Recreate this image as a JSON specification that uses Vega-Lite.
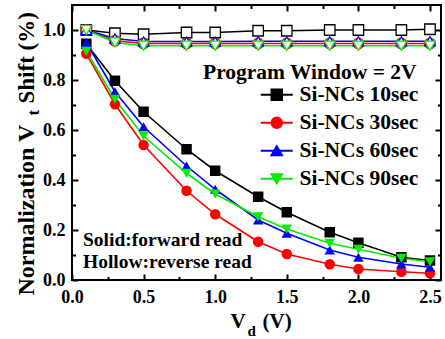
{
  "$schema": "https://vega.github.io/schema/vega-lite/v6.json",
  "width": 369,
  "height": 275,
  "autosize": {"type": "none"},
  "padding": {"left": 72, "top": 5, "right": 4, "bottom": 59},
  "background": "white",
  "config": {
    "view": {"stroke": "black", "strokeWidth": 2},
    "font": "Liberation Serif",
    "axis": {
      "grid": false,
      "domain": false,
      "labelFont": "Liberation Serif",
      "labelFontWeight": "bold",
      "labelFontSize": 18,
      "labelColor": "black",
      "labelOverlap": false,
      "labelFlush": false,
      "titleFont": "Liberation Serif",
      "titleFontWeight": "bold",
      "titleColor": "black",
      "titleAlign": "left",
      "titleBaseline": "alphabetic",
      "tickColor": "black",
      "tickWidth": 2
    },
    "legend": {
      "title": null,
      "orient": "none",
      "padding": 0,
      "symbolSize": 110,
      "symbolStrokeWidth": 2,
      "labelFont": "Liberation Serif",
      "labelFontWeight": "bold",
      "labelFontSize": 21.5,
      "labelColor": "black",
      "labelLimit": 0
    }
  },
  "datasets": {
    "curves": [
      {"vd": 0.1, "shift": 0.945, "series": "Si-NCs 10sec", "read": "forward"},
      {"vd": 0.3, "shift": 0.797, "series": "Si-NCs 10sec", "read": "forward"},
      {"vd": 0.5, "shift": 0.673, "series": "Si-NCs 10sec", "read": "forward"},
      {"vd": 0.8, "shift": 0.523, "series": "Si-NCs 10sec", "read": "forward"},
      {"vd": 1.0, "shift": 0.437, "series": "Si-NCs 10sec", "read": "forward"},
      {"vd": 1.3, "shift": 0.333, "series": "Si-NCs 10sec", "read": "forward"},
      {"vd": 1.5, "shift": 0.271, "series": "Si-NCs 10sec", "read": "forward"},
      {"vd": 1.8, "shift": 0.191, "series": "Si-NCs 10sec", "read": "forward"},
      {"vd": 2.0, "shift": 0.149, "series": "Si-NCs 10sec", "read": "forward"},
      {"vd": 2.3, "shift": 0.091, "series": "Si-NCs 10sec", "read": "forward"},
      {"vd": 2.5, "shift": 0.078, "series": "Si-NCs 10sec", "read": "forward"},
      {"vd": 0.1, "shift": 0.905, "series": "Si-NCs 30sec", "read": "forward"},
      {"vd": 0.3, "shift": 0.703, "series": "Si-NCs 30sec", "read": "forward"},
      {"vd": 0.5, "shift": 0.54, "series": "Si-NCs 30sec", "read": "forward"},
      {"vd": 0.8, "shift": 0.357, "series": "Si-NCs 30sec", "read": "forward"},
      {"vd": 1.0, "shift": 0.263, "series": "Si-NCs 30sec", "read": "forward"},
      {"vd": 1.3, "shift": 0.153, "series": "Si-NCs 30sec", "read": "forward"},
      {"vd": 1.5, "shift": 0.104, "series": "Si-NCs 30sec", "read": "forward"},
      {"vd": 1.8, "shift": 0.063, "series": "Si-NCs 30sec", "read": "forward"},
      {"vd": 2.0, "shift": 0.044, "series": "Si-NCs 30sec", "read": "forward"},
      {"vd": 2.3, "shift": 0.033, "series": "Si-NCs 30sec", "read": "forward"},
      {"vd": 2.5, "shift": 0.027, "series": "Si-NCs 30sec", "read": "forward"},
      {"vd": 0.1, "shift": 0.95, "series": "Si-NCs 60sec", "read": "forward"},
      {"vd": 0.3, "shift": 0.753, "series": "Si-NCs 60sec", "read": "forward"},
      {"vd": 0.5, "shift": 0.613, "series": "Si-NCs 60sec", "read": "forward"},
      {"vd": 0.8, "shift": 0.456, "series": "Si-NCs 60sec", "read": "forward"},
      {"vd": 1.0, "shift": 0.363, "series": "Si-NCs 60sec", "read": "forward"},
      {"vd": 1.3, "shift": 0.24, "series": "Si-NCs 60sec", "read": "forward"},
      {"vd": 1.5, "shift": 0.187, "series": "Si-NCs 60sec", "read": "forward"},
      {"vd": 1.8, "shift": 0.12, "series": "Si-NCs 60sec", "read": "forward"},
      {"vd": 2.0, "shift": 0.091, "series": "Si-NCs 60sec", "read": "forward"},
      {"vd": 2.3, "shift": 0.064, "series": "Si-NCs 60sec", "read": "forward"},
      {"vd": 2.5, "shift": 0.051, "series": "Si-NCs 60sec", "read": "forward"},
      {"vd": 0.1, "shift": 0.915, "series": "Si-NCs 90sec", "read": "forward"},
      {"vd": 0.3, "shift": 0.723, "series": "Si-NCs 90sec", "read": "forward"},
      {"vd": 0.5, "shift": 0.576, "series": "Si-NCs 90sec", "read": "forward"},
      {"vd": 0.8, "shift": 0.427, "series": "Si-NCs 90sec", "read": "forward"},
      {"vd": 1.0, "shift": 0.344, "series": "Si-NCs 90sec", "read": "forward"},
      {"vd": 1.3, "shift": 0.253, "series": "Si-NCs 90sec", "read": "forward"},
      {"vd": 1.5, "shift": 0.204, "series": "Si-NCs 90sec", "read": "forward"},
      {"vd": 1.8, "shift": 0.147, "series": "Si-NCs 90sec", "read": "forward"},
      {"vd": 2.0, "shift": 0.123, "series": "Si-NCs 90sec", "read": "forward"},
      {"vd": 2.3, "shift": 0.087, "series": "Si-NCs 90sec", "read": "forward"},
      {"vd": 2.5, "shift": 0.073, "series": "Si-NCs 90sec", "read": "forward"},
      {"vd": 0.1, "shift": 1.0, "series": "Si-NCs 10sec", "read": "reverse"},
      {"vd": 0.3, "shift": 0.987, "series": "Si-NCs 10sec", "read": "reverse"},
      {"vd": 0.5, "shift": 0.983, "series": "Si-NCs 10sec", "read": "reverse"},
      {"vd": 0.8, "shift": 0.99, "series": "Si-NCs 10sec", "read": "reverse"},
      {"vd": 1.0, "shift": 0.99, "series": "Si-NCs 10sec", "read": "reverse"},
      {"vd": 1.3, "shift": 0.997, "series": "Si-NCs 10sec", "read": "reverse"},
      {"vd": 1.5, "shift": 0.997, "series": "Si-NCs 10sec", "read": "reverse"},
      {"vd": 1.8, "shift": 1.0, "series": "Si-NCs 10sec", "read": "reverse"},
      {"vd": 2.0, "shift": 1.0, "series": "Si-NCs 10sec", "read": "reverse"},
      {"vd": 2.3, "shift": 1.0, "series": "Si-NCs 10sec", "read": "reverse"},
      {"vd": 2.5, "shift": 1.003, "series": "Si-NCs 10sec", "read": "reverse"},
      {"vd": 0.1, "shift": 1.0, "series": "Si-NCs 30sec", "read": "reverse"},
      {"vd": 0.3, "shift": 0.957, "series": "Si-NCs 30sec", "read": "reverse"},
      {"vd": 0.5, "shift": 0.946, "series": "Si-NCs 30sec", "read": "reverse"},
      {"vd": 0.8, "shift": 0.946, "series": "Si-NCs 30sec", "read": "reverse"},
      {"vd": 1.0, "shift": 0.946, "series": "Si-NCs 30sec", "read": "reverse"},
      {"vd": 1.3, "shift": 0.946, "series": "Si-NCs 30sec", "read": "reverse"},
      {"vd": 1.5, "shift": 0.946, "series": "Si-NCs 30sec", "read": "reverse"},
      {"vd": 1.8, "shift": 0.946, "series": "Si-NCs 30sec", "read": "reverse"},
      {"vd": 2.0, "shift": 0.946, "series": "Si-NCs 30sec", "read": "reverse"},
      {"vd": 2.3, "shift": 0.946, "series": "Si-NCs 30sec", "read": "reverse"},
      {"vd": 2.5, "shift": 0.946, "series": "Si-NCs 30sec", "read": "reverse"},
      {"vd": 0.1, "shift": 1.0, "series": "Si-NCs 60sec", "read": "reverse"},
      {"vd": 0.3, "shift": 0.966, "series": "Si-NCs 60sec", "read": "reverse"},
      {"vd": 0.5, "shift": 0.954, "series": "Si-NCs 60sec", "read": "reverse"},
      {"vd": 0.8, "shift": 0.954, "series": "Si-NCs 60sec", "read": "reverse"},
      {"vd": 1.0, "shift": 0.954, "series": "Si-NCs 60sec", "read": "reverse"},
      {"vd": 1.3, "shift": 0.955, "series": "Si-NCs 60sec", "read": "reverse"},
      {"vd": 1.5, "shift": 0.955, "series": "Si-NCs 60sec", "read": "reverse"},
      {"vd": 1.8, "shift": 0.955, "series": "Si-NCs 60sec", "read": "reverse"},
      {"vd": 2.0, "shift": 0.955, "series": "Si-NCs 60sec", "read": "reverse"},
      {"vd": 2.3, "shift": 0.955, "series": "Si-NCs 60sec", "read": "reverse"},
      {"vd": 2.5, "shift": 0.955, "series": "Si-NCs 60sec", "read": "reverse"},
      {"vd": 0.1, "shift": 1.0, "series": "Si-NCs 90sec", "read": "reverse"},
      {"vd": 0.3, "shift": 0.95, "series": "Si-NCs 90sec", "read": "reverse"},
      {"vd": 0.5, "shift": 0.937, "series": "Si-NCs 90sec", "read": "reverse"},
      {"vd": 0.8, "shift": 0.937, "series": "Si-NCs 90sec", "read": "reverse"},
      {"vd": 1.0, "shift": 0.937, "series": "Si-NCs 90sec", "read": "reverse"},
      {"vd": 1.3, "shift": 0.937, "series": "Si-NCs 90sec", "read": "reverse"},
      {"vd": 1.5, "shift": 0.937, "series": "Si-NCs 90sec", "read": "reverse"},
      {"vd": 1.8, "shift": 0.937, "series": "Si-NCs 90sec", "read": "reverse"},
      {"vd": 2.0, "shift": 0.937, "series": "Si-NCs 90sec", "read": "reverse"},
      {"vd": 2.3, "shift": 0.937, "series": "Si-NCs 90sec", "read": "reverse"},
      {"vd": 2.5, "shift": 0.937, "series": "Si-NCs 90sec", "read": "reverse"}
    ]
  },
  "layer": [
    {
      "data": {"name": "curves"},
      "transform": [{"filter": "datum.read === 'forward'"}],
      "mark": {"type": "line", "strokeWidth": 1.6},
      "encoding": {
        "x": {
          "field": "vd", "type": "quantitative",
          "scale": {"domain": [0, 2.577], "nice": false, "zero": false},
          "axis": {
            "orient": "bottom",
            "values": [0, 0.25, 0.5, 0.75, 1, 1.25, 1.5, 1.75, 2, 2.25, 2.5],
            "tickSize": {"condition": {"test": "abs(datum.value*2 - round(datum.value*2)) < 0.001", "value": -6}, "value": -3.5},
            "labelExpr": "abs(datum.value*2 - round(datum.value*2)) < 0.001 ? format(datum.value, '.1f') : ''",
            "labelPadding": 14,
            "title": "V",
            "titleFontSize": 21,
            "titleX": 158,
            "titleY": 47
          }
        },
        "y": {
          "field": "shift", "type": "quantitative",
          "scale": {"domain": [0, 1.1], "nice": false},
          "axis": {
            "orient": "left",
            "values": [0, 0.1, 0.2, 0.3, 0.4, 0.5, 0.6, 0.7, 0.8, 0.9, 1.0],
            "tickSize": {"condition": {"test": "abs(datum.value*5 - round(datum.value*5)) < 0.001", "value": -6}, "value": -3.5},
            "labelExpr": "abs(datum.value*5 - round(datum.value*5)) < 0.001 ? format(datum.value, '.1f') : ''",
            "labelPadding": 13,
            "title": "Normalization V",
            "titleFontSize": 24,
            "titleAngle": -90,
            "titleX": -39,
            "titleY": 290
          }
        },
        "stroke": {
          "field": "series", "type": "nominal",
          "scale": {
            "domain": ["Si-NCs 10sec", "Si-NCs 30sec", "Si-NCs 60sec", "Si-NCs 90sec"],
            "range": ["#000000", "#ff0000", "#0000ff", "#00ee00"]
          },
          "legend": {
            "legendX": 194,
            "legendY": 79,
            "symbolType": "M-3.05,0H3.05",
            "labelOpacity": 0,
            "labelOffset": 12,
            "rowPadding": 5
          }
        }
      }
    },
    {
      "data": {"name": "curves"},
      "transform": [{"filter": "datum.read === 'reverse'"}],
      "mark": {"type": "line", "strokeWidth": 1.6},
      "encoding": {
        "x": {
          "field": "vd", "type": "quantitative",
          "axis": {"orient": "bottom", "ticks": false, "labels": false, "title": "(V)", "titleFontSize": 21, "titleX": 190, "titleY": 47}
        },
        "y": {
          "field": "shift", "type": "quantitative",
          "axis": {"orient": "left", "ticks": false, "labels": false, "title": "Shift (%)", "titleFontSize": 23, "titleAngle": -90, "titleX": -39, "titleY": 98}
        },
        "stroke": {"field": "series", "type": "nominal", "legend": null}
      }
    },
    {
      "data": {"name": "curves"},
      "transform": [{"filter": "datum.read === 'forward'"}],
      "mark": {"type": "point", "filled": true, "opacity": 1, "size": 110},
      "encoding": {
        "x": {
          "field": "vd", "type": "quantitative",
          "axis": {
            "orient": "top",
            "values": [0, 0.25, 0.5, 0.75, 1, 1.25, 1.5, 1.75, 2, 2.25, 2.5],
            "tickSize": {"condition": {"test": "abs(datum.value*2 - round(datum.value*2)) < 0.001", "value": -6}, "value": -3.5},
            "labels": false,
            "title": null
          }
        },
        "y": {
          "field": "shift", "type": "quantitative",
          "axis": {
            "orient": "right",
            "values": [0, 0.1, 0.2, 0.3, 0.4, 0.5, 0.6, 0.7, 0.8, 0.9, 1.0],
            "tickSize": {"condition": {"test": "abs(datum.value*5 - round(datum.value*5)) < 0.001", "value": -6}, "value": -3.5},
            "labels": false,
            "title": null
          }
        },
        "shape": {
          "field": "series", "type": "nominal",
          "scale": {"range": ["square", "circle", "triangle-up", "triangle-down"]},
          "legend": {"legendX": 194, "legendY": 79, "labelOffset": 12, "rowPadding": 5}
        },
        "color": {
          "field": "series", "type": "nominal",
          "scale": {"range": ["#000000", "#ff0000", "#0000ff", "#00ee00"]},
          "legend": {"legendX": 194, "legendY": 79, "labelOffset": 12, "rowPadding": 5}
        }
      }
    },
    {
      "data": {"name": "curves"},
      "transform": [{"filter": "datum.read === 'reverse'"}],
      "mark": {"type": "point", "filled": false, "fill": "white", "fillOpacity": 1, "opacity": 1, "strokeWidth": 1.3, "size": 110},
      "encoding": {
        "x": {
          "field": "vd", "type": "quantitative",
          "axis": {"orient": "bottom", "ticks": false, "labels": false, "title": "d", "titleFontSize": 15, "titleX": 175, "titleY": 55}
        },
        "y": {
          "field": "shift", "type": "quantitative",
          "axis": {"orient": "left", "ticks": false, "labels": false, "title": "t", "titleFontSize": 17, "titleAngle": -90, "titleX": -34, "titleY": 110}
        },
        "shape": {"field": "series", "type": "nominal", "legend": null},
        "color": {"field": "series", "type": "nominal", "legend": null}
      }
    },
    {
      "data": {"values": [{}]},
      "mark": {"type": "text", "text": "Program Window = 2V", "font": "Liberation Serif", "fontWeight": "bold", "fontSize": 21.5, "align": "left", "baseline": "alphabetic", "color": "black"},
      "encoding": {
        "x": {"datum": 0.915, "type": "quantitative", "axis": null},
        "y": {"datum": 0.806, "type": "quantitative", "axis": null}
      }
    },
    {
      "data": {"values": [{}]},
      "mark": {"type": "text", "text": ["Solid:forward read", "Hollow:reverse read"], "lineHeight": 22.7, "font": "Liberation Serif", "fontWeight": "bold", "fontSize": 19.5, "align": "left", "baseline": "alphabetic", "color": "black"},
      "encoding": {
        "x": {"datum": 0.077, "type": "quantitative", "axis": null},
        "y": {"datum": 0.138, "type": "quantitative", "axis": null}
      }
    }
  ],
  "resolve": {"axis": {"x": "independent", "y": "independent"}}
}
